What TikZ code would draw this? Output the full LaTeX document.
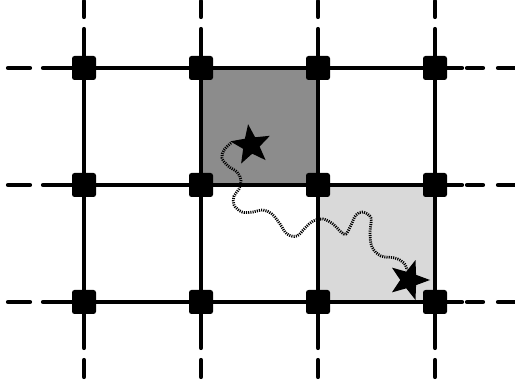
\documentclass[tikz,border=0pt]{standalone}
\usetikzlibrary{shapes.geometric}
\definecolor{darkcell}{RGB}{140,140,140}
\definecolor{lightcell}{RGB}{217,217,217}
\tikzset{
  gridline/.style={line width=4.2pt, line cap=round},
  vertexbox/.style={rectangle, fill=black, minimum size=24pt, inner sep=0pt, rounded corners=2.5pt},
  starnode/.style={star, star points=5, star point ratio=2.4, fill=black, minimum size=42pt, inner sep=0pt},
  walk/.style={line width=2.8pt, dash pattern=on 1.1pt off 1.1pt}
}
\begin{document}
\begin{tikzpicture}[x=1pt,y=-1pt]
\useasboundingbox (0,0) rectangle (515,385);
% vertex positions
\foreach \i/\x in {1/84,2/201,3/318,4/435}{
  \foreach \j/\y in {1/68,2/185,3/302}{
    \coordinate (p\i\j) at (\x,\y);
  }
}
% shaded cells
\filldraw[fill=darkcell, draw=black, line width=0.5pt] (p21) rectangle (p32);
\filldraw[fill=lightcell, draw=black, line width=0.5pt] (p32) rectangle (p43);
% grid lines
\foreach \i/\x in {1/84,2/201,3/318,4/435}{
  \coordinate (t\i a) at (\x,1);
  \coordinate (t\i b) at (\x,17);
  \coordinate (t\i c) at (\x,29);
  \coordinate (b\i a) at (\x,348);
  \coordinate (b\i b) at (\x,360);
  \coordinate (b\i c) at (\x,377);
  \draw[gridline] (t\i c) -- (p\i1.center) -- (p\i2.center) -- (p\i3.center) -- (b\i a);
  \draw[gridline] (t\i a) -- (t\i b);
  \draw[gridline] (b\i b) -- (b\i c);
}
\foreach \j/\y in {1/68,2/185,3/302}{
  \coordinate (l\j a) at (8,\y);
  \coordinate (l\j b) at (30,\y);
  \coordinate (l\j c) at (43,\y);
  \coordinate (r\j a) at (462,\y);
  \coordinate (r\j b) at (467,\y);
  \coordinate (r\j c) at (483,\y);
  \coordinate (r\j d) at (498,\y);
  \coordinate (r\j e) at (515,\y);
  \draw[gridline] (l\j c) -- (p1\j.center) -- (p2\j.center) -- (p3\j.center) -- (p4\j.center) -- (r\j a);
  \draw[gridline] (l\j a) -- (l\j b);
  \draw[gridline] (r\j b) -- (r\j c);
  \draw[gridline] (r\j d) -- (r\j e);
}
% vertex squares
\foreach \i in {1,2,3,4}{
  \foreach \j in {1,2,3}{
    \node[vertexbox] (v\i\j) at (p\i\j) {};
  }
}
% walk
\draw[walk] plot[smooth, tension=0.6] coordinates {
  (231,143) (224,150) (222,158) (228,166) (237,172) (241,180) (239,189)
  (234,196) (234,205) (242,212) (253,212) (263,210) (272,214) (280,224)
  (287,234) (297,236) (305,228) (313,221) (323,219) (333,224) (341,232)
  (346,234) (351,225) (356,215) (363,212) (371,218) (370,232) (372,247)
  (381,256) (395,258) (404,263) (407,270)};
% stars
\node[starnode, rotate=8] (s1) at (251,145) {};
\node[starnode, rotate=-18] (s2) at (409,280) {};
\end{tikzpicture}
\end{document}
